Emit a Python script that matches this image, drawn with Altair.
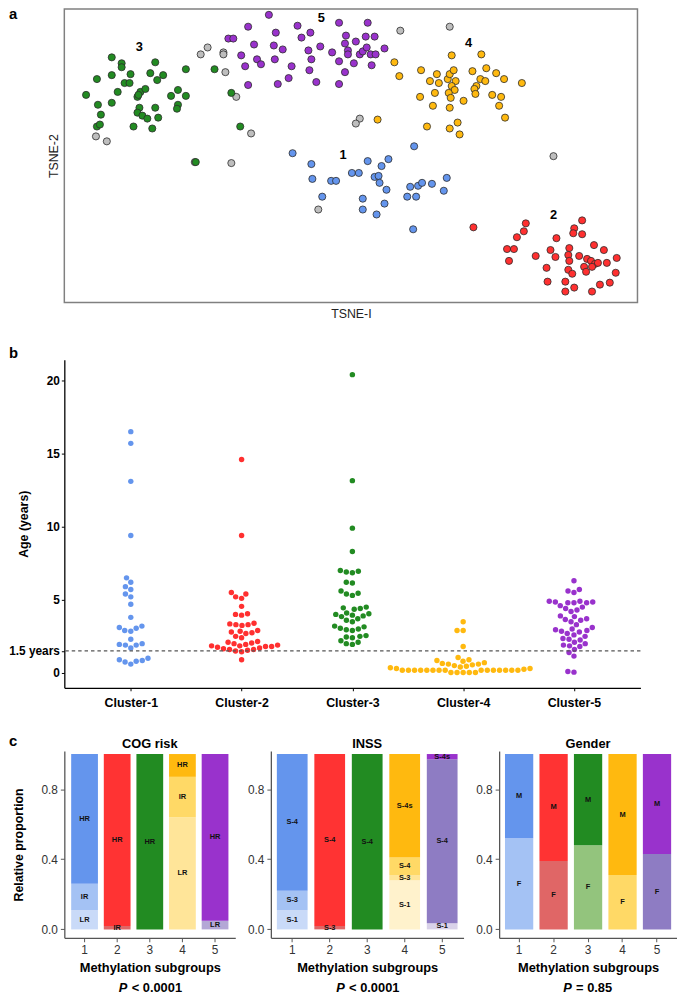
import math
import altair as alt
import pandas as pd

FONT = "Liberation Sans"

# ---------------- Panel a: t-SNE coordinates ----------------
GREY_T1 = [-15.2, -14.5, -12.9, -12.9, -12.7, -11.6, -10.1, -25.8, -24.7, -15.8, -12.1, -3.3, 5.0, 10.0, 0.9, 0.5, 20.5]
GREY_T2 = [10.0, 10.7, 10.2, 10.0, 8.2, 5.7, 2.0, 1.7, 1.2, -0.9, -1.0, -5.7, 12.4, 12.8, 3.5, 3.0, -0.3]

C1_T1 = [-5.9, -4.0, -3.9, -2.0, -1.5, -2.9, 6.4, 1.7, 3.1, 3.8, 0.1, 0.8, 2.4, 2.8, 2.9, 3.6, 1.2, 1.2, 2.6, 3.4,
         6.0, 6.8, 7.2, 8.2, 9.7, 9.4, 5.7, 6.6, 6.3]
C1_T2 = [0.0, -1.1, -2.6, -2.8, -2.8, -4.4, 0.7, -0.8, -1.3, -0.6, -2.0, -2.0, -2.4, -2.3, -3.0, -3.7, -4.6, -5.7, -6.2, -5.1,
         -3.4, -3.3, -3.0, -3.1, -2.5, -3.8, -4.4, -4.4, -7.7]

C2_T1 = [12.4, 17.7, 17.5, 16.8, 15.8, 16.5, 16.0, 18.7, 19.8, 19.9, 20.2, 20.7, 20.8, 23.4, 22.6, 22.5, 23.4, 22.1, 22.0, 22.1,
         23.1, 22.0, 22.4, 21.7, 21.7, 22.6, 24.6, 25.6, 23.9, 24.3, 24.7, 25.0, 25.9, 26.9, 23.6, 23.8, 24.4, 26.8, 24.4, 25.2, 26.2]
C2_T2 = [-7.5, -7.1, -7.9, -8.5, -9.7, -9.7, -10.9, -10.4, -11.6, -13.0, -9.8, -10.5, -8.6, -6.8, -7.6, -8.1, -8.2, -9.6, -10.3, -10.9,
         -10.4, -11.8, -12.2, -13.0, -14.0, -13.6, -9.3, -9.8, -10.7, -10.9, -11.2, -11.1, -11.1, -10.6, -11.5, -12.0, -11.5, -12.1, -14.0, -13.3, -13.1]

C3_T1 = [-24.2, -23.2, -23.2, -19.8, -25.7, -24.2, -22.3, -20.3, -19.0, -22.9, -22.4, -19.6, -26.8, -23.6, -21.3, -20.8, -21.6, -21.5, -17.5, -18.2,
         -16.7, -16.7, -25.6, -24.2, -21.4, -21.6, -21.1, -20.6, -19.8, -19.5, -17.5, -17.6, -25.3, -25.7, -25.4, -22.0, -20.1, -13.8, -12.1, -11.2, -15.7]
C3_T2 = [9.7, 9.1, 8.7, 9.2, 7.5, 7.9, 8.0, 8.1, 7.9, 7.1, 7.1, 7.4, 5.9, 6.2, 6.2, 6.5, 5.7, 5.9, 6.4, 5.8,
         5.8, 8.5, 4.9, 5.1, 4.6, 4.1, 3.8, 3.5, 4.6, 3.6, 4.9, 4.5, 3.9, 2.7, 2.9, 2.7, 2.5, 8.5, 6.1, 2.7, -0.9]

C4_T1 = [10.2, 13.2, 4.4, 4.9, 7.1, 8.7, 8.0, 8.9, 9.8, 10.0, 10.4, 10.6, 10.2, 10.5, 9.9, 10.1, 12.3, 13.7, 14.7, 15.5,
         13.1, 13.6, 12.7, 12.5, 12.6, 17.3, 7.0, 8.5, 11.4, 8.3, 10.0, 14.3, 15.2, 15.0, 15.6, 2.7, 7.7, 10.0, 10.8, 11.0]
C4_T2 = [9.9, 10.0, 9.2, 7.8, 8.4, 8.0, 7.3, 7.1, 7.5, 8.0, 8.4, 7.3, 6.8, 6.4, 6.1, 5.6, 8.3, 8.6, 8.1, 7.5,
         7.5, 7.3, 6.8, 6.5, 6.0, 7.1, 5.7, 6.1, 5.3, 4.8, 4.6, 5.9, 5.7, 4.8, 3.6, 3.4, 2.7, 2.5, 3.1, 1.9]

C5_T1 = [-8.3, -10.4, -12.4, -11.9, -7.6, -5.4, -9.8, -7.8, -6.9, -11.1, -10.7, -9.5, -9.1, -7.7, -6.0, -10.4, -7.4, -6.3, -4.2, -3.5,
         -4.0, -4.3, -5.0, -4.1, -3.1, -1.9, -1.2, 1.7, -0.5, -0.6, 0.5, 1.5, 2.4, -0.3, -0.3, 0.9, 1.2, 1.6, 2.0, 2.5,
         -1.2, 0.3, 2.1, -0.6, -1.2, 3.4]
C5_T2 = [14.0, 12.8, 11.6, 11.6, 12.2, 12.9, 11.0, 10.9, 10.5, 9.9, 8.8, 9.5, 9.0, 9.5, 8.8, 6.9, 7.0, 7.6, 8.4, 7.2,
         9.5, 10.4, 11.7, 12.2, 10.8, 10.2, 13.2, 13.2, 11.9, 11.1, 11.3, 11.8, 11.8, 10.4, 10.0, 10.0, 10.3, 10.7, 10.0, 10.0,
         9.3, 9.1, 8.9, 8.2, 7.0, 10.6]

CLUSTER_NAMES = ["1", "2", "3", "4", "5"]
LABEL_T1 = [-0.8, 20.5, -21.4, 11.9, -3.0]
LABEL_T2 = [-0.2, -6.3, 10.7, 11.1, 13.7]

# ---------------- Panel b: ages (years) per cluster ----------------
AGE_C1 = [16.5, 15.7, 13.1, 9.4, 6.5, 6.2, 5.9, 5.7, 5.4, 5.2, 4.7, 3.8, 3.2, 3.1, 3.05, 2.9, 2.85, 2.3,
          2.0, 1.95, 1.9, 1.9, 1.7, 1.0, 0.9, 0.85, 0.8, 0.75, 0.6]
AGE_C2 = [14.6, 9.4, 5.5, 5.4, 5.2, 5.1, 4.55, 4.05, 4.0, 3.95, 3.4, 3.35, 3.3, 3.3, 3.25, 2.9, 2.85, 2.8, 2.75, 2.7,
          2.5, 2.4, 2.15, 2.1, 2.05, 2.0, 1.95, 1.9, 1.85, 1.85, 1.8, 1.8, 1.75, 1.7, 1.65, 1.6, 1.6, 1.55, 1.5, 1.45, 0.9]
AGE_C3 = [20.4, 13.15, 9.9, 8.3, 7.0, 6.95, 6.9, 6.85, 6.2, 6.15, 5.6, 5.45, 5.4, 5.3, 4.5, 4.45, 4.4, 4.35, 4.1, 4.05,
          4.0, 3.95, 3.9, 3.85, 3.7, 3.6, 3.5, 3.2, 3.15, 3.05, 3.0, 2.95, 2.9, 2.55, 2.5, 2.45, 2.4, 2.2, 2.1, 2.0, 1.95]
AGE_C4 = [3.5, 2.9, 2.9, 1.8, 1.05, 0.9, 0.85, 0.8, 0.7, 0.65, 0.6, 0.6, 0.55, 0.5, 0.45, 0.4, 0.35, 0.3, 0.3, 0.25,
          0.18, 0.18, 0.18, 0.18, 0.18, 0.18, 0.18, 0.18, 0.18, 0.18, 0.18, 0.18, 0.18, 0.18, 0.18,
          0.03, 0.03, 0.03, 0.03, 0.03]
AGE_C5 = [6.3, 5.7, 5.6, 5.5, 4.9, 4.9, 4.85, 4.85, 4.8, 4.8, 4.8, 4.6, 4.5, 4.4, 4.3, 4.2, 3.9, 3.85, 3.7, 3.65,
          3.6, 3.5, 3.3, 3.1, 3.0, 2.95, 2.9, 2.85, 2.8, 2.7, 2.6, 2.5, 2.35, 2.3, 2.25, 2.1, 2.0, 1.9, 1.85, 1.8,
          1.6, 1.4, 1.15, 0.1, 0.05]
AGE_TICKS = [0, 1.5, 5, 10, 15, 20]

# ---------------- Panel c: proportions (bottom -> top) ----------------
SUBGROUPS = ["1", "2", "3", "4", "5"]
COG_LEVELS = ["LR", "IR", "HR"]
COG_P = [[0.11, 0.15, 0.74], [0.0, 0.02, 0.98], [0.0, 0.0, 1.0], [0.64, 0.23, 0.13], [0.05, 0.0, 0.95]]
INSS_LEVELS = ["S-1", "S-3", "S-4", "S-4s"]
INSS_P = [[0.11, 0.11, 0.78, 0.0], [0.0, 0.02, 0.98, 0.0], [0.0, 0.0, 1.0, 0.0],
          [0.28, 0.03, 0.10, 0.59], [0.035, 0.0, 0.935, 0.03]]
GENDER_LEVELS = ["F", "M"]
GENDER_P = [[0.52, 0.48], [0.39, 0.61], [0.48, 0.52], [0.31, 0.69], [0.43, 0.57]]
P_TEXT = ["< 0.0001", "< 0.0001", "= 0.85"]

# ---------------- styles ----------------
BASE = {"1": "#6495ED", "2": "#FF3030", "3": "#228B22", "4": "#FFB90F", "5": "#9932CC"}
SHADES = {
    "1": ["#6495ED", "#A4C2F4", "#C9DAF8", "#DDE8FA"],
    "2": ["#FF3333", "#E06666", "#EA9999", "#F4CCCC"],
    "3": ["#228B22", "#93C47D", "#B6D7A8", "#D9EAD3"],
    "4": ["#FFB90F", "#FFD966", "#FFE599", "#FFF2CC"],
    "5": ["#9932CC", "#8E7CC3", "#B4A7D6", "#D9D2E9"],
}
SHADE_OVERRIDE = {("COG", "5", "LR"): 2, ("INSS", "5", "S-1"): 3}

# ---------------- Panel a ----------------
rows = []
for t1, t2 in zip(GREY_T1, GREY_T2):
    rows.append({"t1": t1, "t2": t2, "grp": "NA", "ord": 0})
for name, xs, ys in zip(CLUSTER_NAMES, [C1_T1, C2_T1, C3_T1, C4_T1, C5_T1], [C1_T2, C2_T2, C3_T2, C4_T2, C5_T2]):
    for t1, t2 in zip(xs, ys):
        rows.append({"t1": t1, "t2": t2, "grp": name, "ord": 1})
df_a = pd.DataFrame(rows)
df_lab = pd.DataFrame({"t1": LABEL_T1, "t2": LABEL_T2, "lab": CLUSTER_NAMES})

xa = alt.X("t1:Q", scale=alt.Scale(domain=[-29, 29], nice=False, zero=False),
           axis=alt.Axis(title="TSNE-I", labels=False, ticks=False, domain=False, grid=False,
                         titleFontWeight="normal", titleFontSize=12.5, titleColor="#222", titlePadding=5))
ya = alt.Y("t2:Q", scale=alt.Scale(domain=[-15.1, 14.6], nice=False, zero=False),
           axis=alt.Axis(title="TSNE-2", labels=False, ticks=False, domain=False, grid=False,
                         titleFontWeight="normal", titleFontSize=12.5, titleColor="#222", titlePadding=4))

pts_a = alt.Chart(df_a).mark_circle(size=52, opacity=1, stroke="#2b2b2b", strokeWidth=0.8).encode(
    x=xa, y=ya,
    color=alt.Color("grp:N", scale=alt.Scale(domain=["NA"] + CLUSTER_NAMES,
                                             range=["#BEBEBE"] + [BASE[c] for c in CLUSTER_NAMES]), legend=None),
    order=alt.Order("ord:Q"),
)
lab_a = alt.Chart(df_lab).mark_text(fontSize=13, fontWeight="bold", color="black").encode(
    x="t1:Q", y="t2:Q", text="lab:N")
tag_a = alt.Chart(pd.DataFrame({"t": ["a"]})).mark_text(
    fontSize=15, fontWeight="bold", align="left", baseline="middle", color="black").encode(
    x=alt.value(-56), y=alt.value(5), text="t:N")

panel_a = alt.layer(pts_a, lab_a, tag_a).properties(
    width=580, height=297, view=alt.ViewBackground(stroke="#808080", strokeWidth=1.5))

# ---------------- Panel b ----------------
W_B, H_B = 583, 332
X_DOM = [0.4, 5.6]
Y_DOM = [-1.02, 21.42]
px_x = W_B / (X_DOM[1] - X_DOM[0])
px_y = H_B / (Y_DOM[1] - Y_DOM[0])


def swarm(vals, d):
    order = sorted(range(len(vals)), key=lambda i: (vals[i], i))
    placed = []
    out = [0.0] * len(vals)
    for i in order:
        y = vals[i] * px_y
        cands = [0.0]
        for (px, py) in placed:
            dy = abs(py - y)
            if dy < d:
                dx = math.sqrt(d * d - dy * dy)
                cands += [px - dx, px + dx]
        cands.sort(key=lambda c: (round(abs(c), 6), c))
        chosen = 0.0
        for c in cands:
            if all((c - px) ** 2 + (y - py) ** 2 >= d * d - 1e-6 for (px, py) in placed):
                chosen = c
                break
        placed.append((chosen, y))
        out[i] = chosen
    return out


rows = []
for k, (name, ages) in enumerate(zip(CLUSTER_NAMES, [AGE_C1, AGE_C2, AGE_C3, AGE_C4, AGE_C5])):
    offs = swarm(ages, 6.2)
    for a, o in zip(ages, offs):
        rows.append({"xpos": (k + 1) + o / px_x, "age": a, "grp": name})
df_b = pd.DataFrame(rows)

xb = alt.X("xpos:Q", scale=alt.Scale(domain=X_DOM, nice=False, zero=False),
           axis=alt.Axis(values=[1, 2, 3, 4, 5], labelExpr="'Cluster-' + datum.value", title=None,
                         labelFontWeight="bold", labelFontSize=12.5, labelColor="black",
                         domainColor="black", domainWidth=1.3, tickColor="black", tickSize=3,
                         labelPadding=6, grid=False))
yb = alt.Y("age:Q", scale=alt.Scale(domain=Y_DOM, nice=False, zero=False),
           axis=alt.Axis(values=AGE_TICKS, labelExpr="datum.value == 1.5 ? '1.5 years' : datum.label",
                         title="Age (years)", titleFontSize=12.5, titleFontWeight="bold", titleColor="black",
                         titleX=-34, titleY=H_B / 2,
                         labelFontWeight="bold", labelFontSize=12, labelColor="black", labelOverlap=False,
                         tickSize=3, labelPadding=2, domainColor="black", domainWidth=1.3,
                         tickColor="black", grid=False))

rule_b = alt.Chart(pd.DataFrame({"age": [1.5]})).mark_rule(
    strokeDash=[3.5, 3], color="#555555", strokeWidth=1.2).encode(y=alt.Y("age:Q"))
pts_b = alt.Chart(df_b).mark_circle(size=30, opacity=1).encode(
    x=xb, y=yb,
    color=alt.Color("grp:N", scale=alt.Scale(domain=CLUSTER_NAMES, range=[BASE[c] for c in CLUSTER_NAMES]),
                    legend=None))
tag_b = alt.Chart(pd.DataFrame({"t": ["b"]})).mark_text(
    fontSize=15, fontWeight="bold", align="left", baseline="middle", color="black").encode(
    x=alt.value(-56), y=alt.value(-7), text="t:N")
# panel "c" tag sits below panel b (keeps the bar-panel titles unaffected)
tag_c = alt.Chart(pd.DataFrame({"t": ["c"]})).mark_text(
    fontSize=15, fontWeight="bold", align="left", baseline="middle", color="black").encode(
    x=alt.value(-56), y=alt.value(H_B + 54), text="t:N")
panel_b = alt.layer(pts_b, rule_b, tag_b, tag_c).properties(width=W_B, height=H_B)

# ---------------- Panel c ----------------
H_C = 189
C_DOM = [-0.048, 1.017]


def stack_df(panel, levels, props):
    out = []
    for cl, ps in zip(SUBGROUPS, props):
        nz = [(lv, p) for lv, p in zip(levels, ps) if p > 0]
        lo = 0.0
        n = len(nz)
        for i, (lv, p) in enumerate(nz):
            shade = SHADE_OVERRIDE.get((panel, cl, lv), n - 1 - i)
            out.append({"cl": cl, "level": lv, "lo": lo, "hi": lo + p, "mid": lo + p / 2,
                        "key": f"{cl}-{shade}"})
            lo += p
    return pd.DataFrame(out)


KEYS = [f"{c}-{s}" for c in SUBGROUPS for s in range(4)]
KEY_COLORS = [SHADES[c][s] for c in SUBGROUPS for s in range(4)]


def bar_panel(panel, levels, props, title, width, pad_outer, ytitle, ptxt):
    df = stack_df(panel, levels, props)
    x = alt.X("cl:O", scale=alt.Scale(paddingInner=0.18, paddingOuter=pad_outer),
              axis=alt.Axis(title="Methylation subgroups", labelAngle=0, labelFontSize=12, labelColor="#333333",
                            tickSize=4, tickColor="#555555", domainColor="#555555", domainWidth=1.3,
                            labelPadding=3, titleFontSize=13, titleFontWeight="bold", titleColor="black",
                            titlePadding=6, grid=False))
    yax = dict(values=[0, 0.2, 0.4, 0.6, 0.8, 1.0], format=".1f", labelFontSize=12, labelColor="#333333",
               tickSize=4, tickColor="#555555", domainColor="#555555", domainWidth=1.3, labelPadding=3,
               labelOverlap=False, labelFlush=False, labelBound=False, grid=False)
    if ytitle:
        yax.update(title=ytitle, titleFontSize=12.5, titleFontWeight="bold", titleColor="black",
                   titleX=-39, titleY=H_C / 2)
    else:
        yax.update(title=None)
    y = alt.Y("lo:Q", scale=alt.Scale(domain=C_DOM, nice=False, zero=False), axis=alt.Axis(**yax))
    base = alt.Chart(df)
    bars = base.mark_bar().encode(
        x=x, y=y, y2="hi:Q",
        color=alt.Color("key:N", scale=alt.Scale(domain=KEYS, range=KEY_COLORS), legend=None))
    labels = base.mark_text(fontSize=7.5, fontWeight="bold", color="#111111").encode(
        x="cl:O", y="mid:Q", text="level:N")
    n_txt = len(ptxt)
    start = width / 2 - (13 + n_txt * 6.2) / 2
    p1 = alt.Chart(pd.DataFrame({"t": ["P"]})).mark_text(
        fontSize=13, fontWeight="bold", fontStyle="italic", align="left", baseline="middle", color="black").encode(
        x=alt.value(start), y=alt.value(240), text="t:N")
    p2 = alt.Chart(pd.DataFrame({"t": [ptxt]})).mark_text(
        fontSize=13, fontWeight="bold", align="left", baseline="middle", color="black").encode(
        x=alt.value(start + 13), y=alt.value(240), text="t:N")
    return alt.layer(bars, labels, p1, p2).properties(
        width=width, height=H_C,
        title=alt.TitleParams(title, fontSize=13, fontWeight="bold", offset=0, anchor="middle",
                              frame="group", color="black"))


c1 = bar_panel("COG", COG_LEVELS, COG_P, "COG risk", 173, 0.21, "Relative proportion", P_TEXT[0])
c2 = bar_panel("INSS", INSS_LEVELS, INSS_P, "INSS", 195, 0.16, None, P_TEXT[1])
c3 = bar_panel("Gender", GENDER_LEVELS, GENDER_P, "Gender", 180, 0.17, None, P_TEXT[2])
panel_c = alt.hconcat(c1, c2, c3, spacing=36, bounds="flush").resolve_scale(color="independent")


def spacer(h):
    return alt.Chart(pd.DataFrame({"v": [0]})).mark_point(opacity=0, size=1).encode(
        x=alt.value(0), y=alt.value(0)).properties(width=1, height=h)


# gaps: a->b = 2*24 + 10 ; b->c = 2*24 + 16
chart = alt.vconcat(panel_a, spacer(10), panel_b, spacer(16), panel_c, spacing=24, bounds="flush").resolve_scale(
    color="independent"
).properties(
    padding={"left": 0, "top": -8, "right": 0, "bottom": 0}
).configure_view(stroke=None).configure_axis(
    labelFont=FONT, titleFont=FONT, grid=False
).configure_text(font=FONT).configure_title(font=FONT)

chart.save("out.html", embed_options={"renderer": "svg", "actions": False})
